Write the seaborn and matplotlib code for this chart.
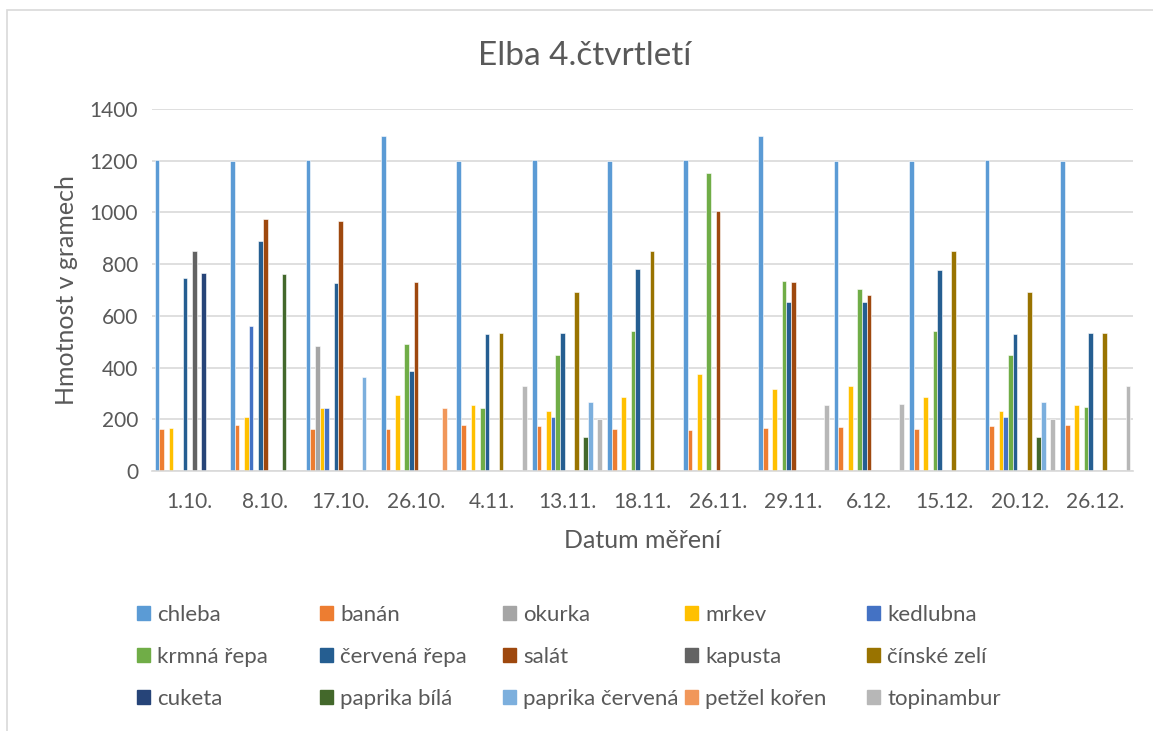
import numpy as np
import pandas as pd
import matplotlib
matplotlib.use('Agg')
import matplotlib.pyplot as plt
import matplotlib.patches as mpatches
import seaborn as sns

nan = np.nan

# Datum měření
dates = ['1.10.', '8.10.', '17.10.', '26.10.', '4.11.', '13.11.', '18.11.',
         '26.11.', '29.11.', '6.12.', '15.12.', '20.12.', '26.12.']

# hodnoty podle druhu (g)
chleba = [1201, 1197, 1204, 1297, 1197, 1204, 1197, 1204, 1297, 1197, 1197, 1204, 1197]
banan = [164, 176, 164, 164, 176, 174, 164, 160, 167, 169, 164, 173, 176]
okurka = [nan, nan, 484, nan, nan, nan, nan, nan, nan, nan, nan, nan, nan]
mrkev = [165, 209, 244, 292, 254, 232, 287, 375, 318, 328, 287, 231, 254]
kedlubna = [nan, 562, 245, nan, nan, 207, nan, nan, nan, nan, nan, 207, nan]
krmna_repa = [nan, nan, nan, 493, 244, 448, 540, 1152, 734, 704, 540, 448, 248]
cervena_repa = [745, 891, 727, 385, 530, 532, 780, nan, 652, 655, 777, 530, 535]
salat = [nan, 974, 965, 732, nan, nan, nan, 1006, 731, 682, nan, nan, nan]
kapusta = [851, nan, nan, nan, nan, nan, nan, nan, nan, nan, nan, nan, nan]
cinske_zeli = [nan, nan, nan, nan, 535, 692, 849, nan, nan, nan, 849, 692, 535]
cuketa = [767, nan, nan, nan, nan, nan, nan, nan, nan, nan, nan, nan, nan]
paprika_bila = [nan, 762, nan, nan, nan, 130, nan, nan, nan, nan, nan, 130, nan]
paprika_cervena = [nan, nan, 362, nan, nan, 266, nan, nan, nan, nan, nan, 265, nan]
petzel_koren = [nan, nan, nan, 243, nan, nan, nan, nan, nan, nan, nan, nan, nan]
topinambur = [nan, nan, nan, nan, 329, 203, nan, nan, 254, 258, nan, 203, 328]

series = ['chleba', 'banán', 'okurka', 'mrkev', 'kedlubna',
          'krmná řepa', 'červená řepa', 'salát', 'kapusta', 'čínské zelí',
          'cuketa', 'paprika bílá', 'paprika červená', 'petžel kořen', 'topinambur']
values = [chleba, banan, okurka, mrkev, kedlubna,
          krmna_repa, cervena_repa, salat, kapusta, cinske_zeli,
          cuketa, paprika_bila, paprika_cervena, petzel_koren, topinambur]
colors = ['#5B9BD5', '#ED7D31', '#A5A5A5', '#FFC000', '#4472C4',
          '#70AD47', '#255E91', '#9E480E', '#636363', '#997300',
          '#264478', '#43682B', '#7CAFDD', '#F1975A', '#B7B7B7']

rows = []
for name, vals in zip(series, values):
    for d, v in zip(dates, vals):
        rows.append({'datum': d, 'druh': name, 'hmotnost': v})
df = pd.DataFrame(rows)

sns.set_style('white')
plt.rcParams['font.family'] = ['Lato', 'DejaVu Sans']
text_col = '#595959'
grid_col = '#D9D9D9'

fig = plt.figure(figsize=(11.53, 7.31), dpi=100)
ax = fig.add_axes([152 / 1153, 1 - 471 / 731, 981 / 1153, 362 / 731])

sns.barplot(data=df, x='datum', y='hmotnost', hue='druh', order=dates,
            hue_order=series, palette=colors, width=0.93, saturation=1,
            errorbar=None, legend=False, edgecolor='white', linewidth=0.4, ax=ax)

ax.set_ylim(0, 1400)
ax.set_xlim(-0.5, len(dates) - 0.5)
ax.set_yticks(range(0, 1401, 200))
ax.yaxis.grid(True, color=grid_col, linewidth=1.2)
ax.set_axisbelow(True)
for s in ['top', 'right', 'left']:
    ax.spines[s].set_visible(False)
ax.spines['bottom'].set_color(grid_col)
ax.spines['bottom'].set_linewidth(1.2)
ax.tick_params(axis='both', length=0, labelsize=15, labelcolor=text_col)
ax.tick_params(axis='x', pad=15)
ax.tick_params(axis='y', pad=10)
ax.set_xlabel('Datum měření', fontsize=18, color=text_col, labelpad=12)
ax.set_ylabel('Hmotnost v gramech', fontsize=18, color=text_col, labelpad=8)

fig.text(0.507, 1 - 56 / 731, 'Elba 4.čtvrtletí', ha='center', va='center',
         fontsize=24, color=text_col)

# legenda: 5 sloupců, řazeno po řádcích
col_x = [137, 320, 503, 685, 867]
for j, x in enumerate(col_x):
    handles = [mpatches.Patch(color=colors[k], label=series[k])
               for k in range(j, len(series), 5)]
    fig.legend(handles=handles, loc='center left',
               bbox_to_anchor=(x / 1153, 1 - 657 / 731), frameon=False,
               fontsize=16, labelcolor=text_col, handlelength=0.6,
               handleheight=0.6, handletextpad=0.3, labelspacing=1.0,
               borderpad=0, borderaxespad=0)

# rámeček grafu
fig.patches.append(mpatches.Rectangle((7 / 1153, -0.1), 1.2, 1.1 - 10 / 731,
                                      transform=fig.transFigure, fill=False,
                                      edgecolor=grid_col, linewidth=1.2))

fig.savefig('out.png', dpi=100)
